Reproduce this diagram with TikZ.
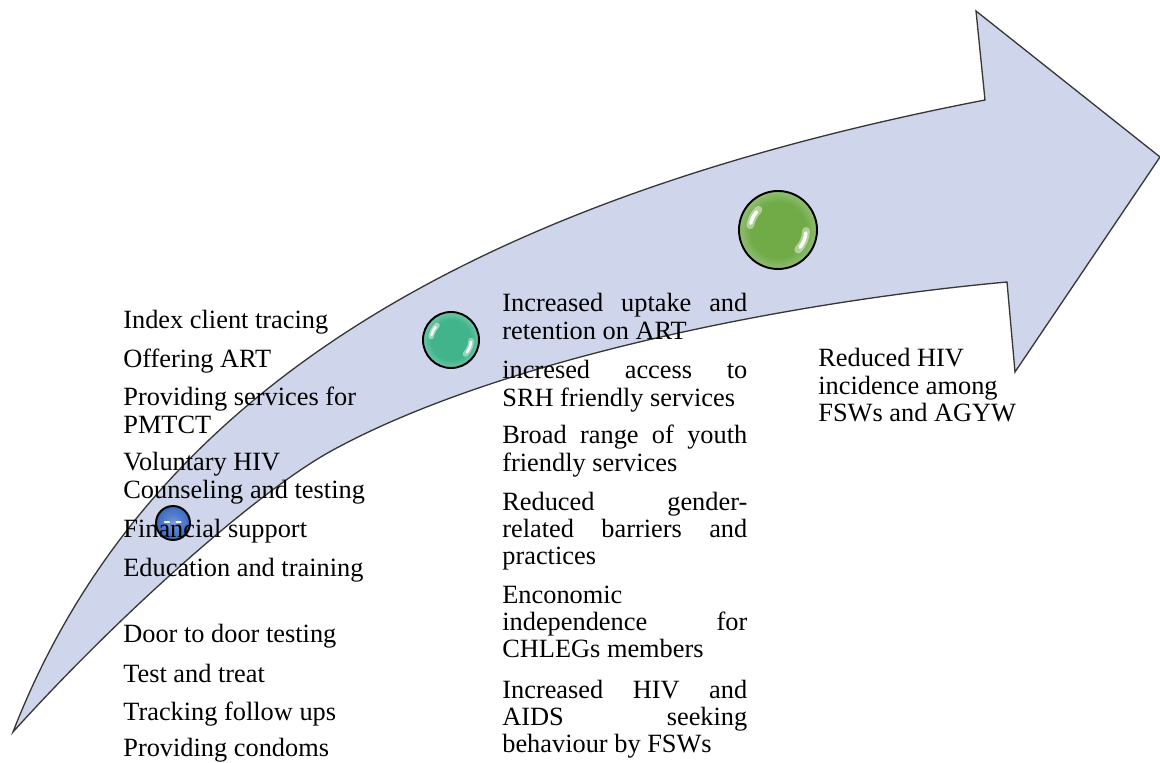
\documentclass[tikz,border=0pt]{standalone}
\usepackage{fontspec}
\setmainfont{Liberation Serif}
\usetikzlibrary{calc}

\definecolor{arrowfill}{RGB}{207,213,234}
\definecolor{arrowline}{RGB}{55,55,55}
\definecolor{ballgreen}{RGB}{112,171,72}
\definecolor{ballteal}{RGB}{66,180,140}
\definecolor{ballblue}{RGB}{70,115,200}

% glossy ball shadings: flat core, soft light rim
\pgfdeclareradialshading{glossgreen}{\pgfpoint{0bp}{0bp}}{color(0bp)=(ballgreen); color(18bp)=(ballgreen); color(24bp)=(ballgreen!80!white); color(25bp)=(ballgreen!72!white); color(50bp)=(ballgreen!72!white)}
\pgfdeclareradialshading{glossteal}{\pgfpoint{0bp}{0bp}}{color(0bp)=(ballteal); color(18bp)=(ballteal); color(24bp)=(ballteal!80!white); color(25bp)=(ballteal!72!white); color(50bp)=(ballteal!72!white)}
\pgfdeclareradialshading{glossblue}{\pgfpoint{0bp}{0bp}}{color(0bp)=(ballblue!70!white); color(10bp)=(ballblue!90!white); color(20bp)=(ballblue); color(25bp)=(ballblue!85!black); color(50bp)=(ballblue!85!black)}

% white reflections on a ball: #1 node name, #2 radius in cm
\newcommand\glossmark[2]{%
  \draw[white, opacity=0.45, line cap=round, line width={0.2*#2 cm}]
    (#1.center) ++(170:{0.72*#2 cm}) arc[start angle=170, end angle=134, radius={0.72*#2 cm}];
  \draw[white, opacity=0.95, line cap=round, line width={0.09*#2 cm}]
    (#1.center) ++(166:{0.72*#2 cm}) arc[start angle=166, end angle=140, radius={0.72*#2 cm}];
  \draw[white, opacity=0.45, line cap=round, line width={0.2*#2 cm}]
    (#1.center) ++(-2:{0.72*#2 cm}) arc[start angle=-2, end angle=-44, radius={0.72*#2 cm}];
  \draw[white, opacity=0.95, line cap=round, line width={0.09*#2 cm}]
    (#1.center) ++(-6:{0.72*#2 cm}) arc[start angle=-6, end angle=-38, radius={0.72*#2 cm}];
}

\newcommand\jl[1]{\makebox[\linewidth][s]{#1}}

\tikzset{
  flowarrow/.style={fill=arrowfill, draw=arrowline, line width=0.75pt, line join=miter},
  ball/.style={circle, draw=black, line width=1.1pt, inner sep=0pt, shade},
  txt/.style={anchor=base west, inner sep=0pt, font=\fontsize{15}{15.6}\selectfont, text=black},
}

\begin{document}
\begin{tikzpicture}[x=0.02cm, y=-0.02cm]
\useasboundingbox (0,0) rectangle (1160,763);

% the curved arrow
\draw[flowarrow]
  (13,732) .. controls (150,379) and (495,195) .. (985,100)
  -- (976,11) -- (1160,157) -- (1015,372) -- (1007,282)
  .. controls (788,302) and (500,359) .. (333,450)
  .. controls (254,493) and (113,621) .. (13,732)
  -- cycle;

% milestone balls
\node[ball, shading=glossblue, minimum size=0.68cm] (b1) at (173,523) {};
\draw[white, line width=1.2pt, line cap=round] ($(b1.center)+(-0.16cm,0.02cm)$) -- ++(0.08cm,0);
\draw[white, line width=1.2pt, line cap=round] ($(b1.center)+(0.07cm,0.02cm)$) -- ++(0.08cm,0);
\node[ball, shading=glossteal, minimum size=1.12cm] (b2) at (451,340) {};
\glossmark{b2}{0.56}
\node[ball, shading=glossgreen, minimum size=1.56cm] (b3) at (778,230) {};
\glossmark{b3}{0.78}

% activities
\node[txt] (a1) at (123,329) {\parbox[t]{6cm}{\raggedright Index client tracing}};
\node[txt] (a2) at (123,368) {\parbox[t]{6cm}{\raggedright Offering ART}};
\node[txt] (a3) at (123,406) {\parbox[t]{6cm}{\raggedright Providing services for\\PMTCT}};
\node[txt] (a4) at (123,471) {\parbox[t]{6cm}{\raggedright Voluntary HIV\\Counseling and testing}};
\node[txt] (a5) at (123,538) {\parbox[t]{6cm}{\raggedright Financial support}};
\node[txt] (a6) at (123,576) {\parbox[t]{6cm}{\raggedright Education and training}};
\node[txt] (a7) at (123,642) {\parbox[t]{6cm}{\raggedright Door to door testing}};
\node[txt] (a8) at (123,682) {\parbox[t]{6cm}{\raggedright Test and treat}};
\node[txt] (a9) at (123,720) {\parbox[t]{6cm}{\raggedright Tracking follow ups}};
\node[txt] (a10) at (123,756) {\parbox[t]{6cm}{\raggedright Providing condoms}};

% outcomes
\node[txt] (o1) at (502,312) {\parbox[t]{4.9cm}{\raggedright \jl{Increased uptake and}\\retention on ART}};
\node[txt] (o2) at (502,379) {\parbox[t]{4.9cm}{\raggedright \jl{incresed access to}\\SRH friendly services}};
\node[txt] (o3) at (502,444) {\parbox[t]{4.9cm}{\raggedright \jl{Broad range of youth}\\friendly services}};
\node[txt] (o4) at (502,510) {\parbox[t]{4.9cm}{\raggedright \jl{Reduced gender-}\\\jl{related barriers and}\\practices}};
\node[txt] (o5) at (502,603) {\parbox[t]{4.9cm}{\raggedright Enconomic\\\jl{independence for}\\CHLEGs members}};
\node[txt] (o6) at (502,698) {\parbox[t]{4.9cm}{\raggedright \jl{Increased HIV and}\\\jl{AIDS seeking}\\behaviour by FSWs}};

% impact
\node[txt] (i1) at (818,367) {\parbox[t]{5cm}{\raggedright Reduced HIV\\incidence among\\FSWs and AGYW}};
\end{tikzpicture}
\end{document}
